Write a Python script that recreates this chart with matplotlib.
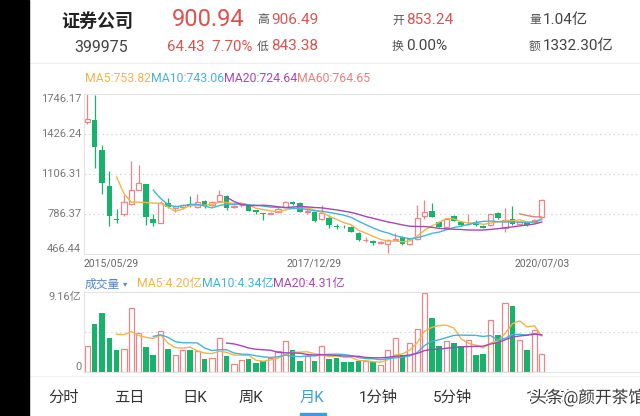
import matplotlib.pyplot as plt
import matplotlib.patheffects as pe
from matplotlib.patches import Rectangle
from matplotlib.lines import Line2D
import pandas as pd

plt.rcParams['font.family'] = ['Roboto', 'Noto Sans CJK SC', 'DejaVu Sans']
NARROW = ['Liberation Sans Narrow', 'Roboto', 'Noto Sans CJK SC']

# monthly candles, 2015/05 .. 2020/07
opens = [1520, 1541, 1301, 1013, 745, 786, 866, 981, 1026, 749,
         714, 872, 838, 845, 868, 845, 888, 855, 888, 928,
         845, 855, 850, 815, 792, 790, 802, 845, 880, 877,
         800, 800, 744, 752, 690, 685, 680, 632, 575, 573,
         555, 548, 580, 605, 546, 584, 773, 813, 720, 685,
         770, 725, 705, 725, 690, 698, 797, 672, 746, 706,
         717, 720, 764]
highs = [1746, 1735, 1336, 1128, 826, 941, 1208, 1176, 1030, 786,
         888, 914, 860, 870, 928, 946, 895, 888, 980, 935,
         862, 870, 858, 820, 795, 800, 840, 890, 890, 885,
         830, 805, 858, 780, 710, 695, 690, 640, 600, 575,
         570, 585, 632, 612, 590, 858, 898, 877, 730, 752,
         775, 730, 786, 735, 700, 790, 800, 834, 850, 730,
         720, 745, 905]
lows = [1510, 1154, 946, 688, 714, 773, 861, 978, 701, 688,
        714, 834, 805, 830, 845, 838, 838, 850, 885, 820,
        835, 845, 808, 790, 738, 785, 800, 843, 855, 800,
        785, 725, 740, 672, 665, 675, 640, 570, 565, 540,
        548, 472, 575, 540, 542, 580, 744, 760, 680, 680,
        728, 690, 700, 692, 672, 690, 745, 645, 700, 698,
        690, 715, 760]
closes = [1545, 1320, 1034, 773, 738, 880, 981, 1032, 760, 714,
          874, 840, 848, 855, 848, 882, 848, 882, 940, 834,
          852, 860, 813, 800, 787, 797, 824, 880, 864, 805,
          810, 733, 792, 698, 685, 680, 645, 578, 580, 552,
          562, 576, 585, 546, 584, 757, 805, 765, 685, 744,
          733, 698, 710, 698, 677, 786, 752, 738, 706, 720,
          698, 738, 899]
# volume, 亿
volumes = [2.93, 5.50, 6.76, 3.89, 2.52, 2.67, 7.33, 4.47, 2.86, 1.90,
           4.65, 2.67, 1.90, 2.52, 2.52, 2.45, 1.49, 1.55, 3.89, 1.87,
           0.92, 1.41, 1.49, 1.03, 1.30, 1.64, 2.40, 3.50, 2.52, 1.30,
           1.87, 1.30, 2.93, 1.49, 1.60, 1.15, 1.15, 1.22, 1.30, 1.10,
           0.84, 2.55, 3.90, 1.98, 3.30, 4.98, 9.10, 6.22, 2.97, 3.60,
           3.30, 2.93, 3.63, 1.90, 2.05, 6.00, 4.20, 7.90, 7.53, 3.63,
           2.55, 4.85, 2.05]

price_ticks = [466.44, 786.37, 1106.31, 1426.24, 1746.17]
vol_max = 9.16
date_labels = ['2015/05/29', '2017/12/29', '2020/07/03']
date_pos = [0, 31, 62]

ma_windows = [5, 10, 20, 60]
ma_colors = ['#f0b54a', '#45b3dc', '#a946b4', '#e5807c']
ma_labels = ['MA5:753.82', 'MA10:743.06', 'MA20:724.64', 'MA60:764.65']
vol_ma_labels = ['MA5:4.20亿', 'MA10:4.34亿', 'MA20:4.31亿']

tabs = ['分时', '五日', '日K', '周K', '月K', '1分钟', '5分钟', '15分钟']
tab_x = [48, 114, 182, 239, 300, 359, 433, 526]

UP = '#e8868a'
DOWN = '#17b26b'
RED = '#d9534f'
GRID = '#e4e4e4'

W, H = 640, 416
fig = plt.figure(figsize=(6.4, 4.16), dpi=100)
fig.patch.set_facecolor('white')


def fx(px):
    return px / W


def fy(py):
    return 1 - py / H


step = 7.33
x0 = 87.3
left_px = 84
xmin = (left_px - x0) / step
xmax = (W - x0) / step

ax_p = fig.add_axes([fx(left_px), fy(254), fx(W - left_px), 160 / H])
ax_v = fig.add_axes([fx(left_px), fy(372), fx(W - left_px), 80 / H])

df = pd.DataFrame({'open': opens, 'high': highs, 'low': lows,
                   'close': closes, 'vol': volumes})
df['up'] = df['close'] >= df['open']
idx = list(range(len(df)))

# candles
for i, r in df.iterrows():
    col = UP if r['up'] else DOWN
    lo_b = min(r['open'], r['close'])
    hi_b = max(r['open'], r['close'])
    ax_p.vlines(i, r['low'], r['high'], color=col, lw=0.9, zorder=2)
    body = max(hi_b - lo_b, 4)
    if r['up']:
        ax_p.bar(i, body, bottom=lo_b, width=0.72, facecolor='white',
                 edgecolor=col, lw=0.9, zorder=3)
    else:
        ax_p.bar(i, body, bottom=lo_b, width=0.76, color=col, lw=0, zorder=3)

for w, c in zip(ma_windows, ma_colors):
    ma = df['close'].rolling(w).mean()
    ax_p.plot(idx, ma, color=c, lw=1.0, zorder=4)

ax_p.set_xlim(xmin, xmax)
ax_p.set_ylim(price_ticks[0], price_ticks[-1])
for v in price_ticks[1:-1]:
    ax_p.axhline(v, color='#d6d6d6', lw=0.8, ls=(0, (1.5, 2.5)), zorder=1)

# volume bars
for i, r in df.iterrows():
    if r['up']:
        ax_v.bar(i, r['vol'], width=0.72, facecolor='white', edgecolor=UP,
                 lw=0.9, zorder=2)
    else:
        ax_v.bar(i, r['vol'], width=0.76, color=DOWN, lw=0, zorder=2)
for w, c in zip(ma_windows[:3], ma_colors[:3]):
    ax_v.plot(idx, df['vol'].rolling(w).mean(), color=c, lw=1.0, zorder=3)
ax_v.set_xlim(xmin, xmax)
ax_v.set_ylim(0, vol_max)
ax_v.axhline(vol_max / 2, color='#d6d6d6', lw=0.8, ls=(0, (1.5, 2.5)), zorder=1)

for ax in (ax_p, ax_v):
    ax.set_xticks([])
    ax.set_yticks([])
    ax.spines['right'].set_visible(False)
    for s in ('left', 'top', 'bottom'):
        ax.spines[s].set_color(GRID)
        ax.spines[s].set_linewidth(0.8)
    ax.patch.set_alpha(0)

# price axis labels
ytr = ax_p.get_yaxis_transform()
for k, v in enumerate(price_ticks):
    va = 'bottom' if k == 0 else ('top' if k == len(price_ticks) - 1 else 'center')
    ax_p.text(-0.005, v, f'{v:.2f}', transform=ytr, ha='right', va=va,
              fontsize=8, color='#777777')
ax_v.text(-0.005, vol_max, f'{vol_max:.2f}亿', transform=ax_v.get_yaxis_transform(),
          ha='right', va='top', fontsize=8, color='#777777')
ax_v.text(-0.005, 0, '0', transform=ax_v.get_yaxis_transform(),
          ha='right', va='bottom', fontsize=8, color='#777777')

xtr = ax_p.get_xaxis_transform()
for lab, p in zip(date_labels, date_pos):
    ha = 'left' if p == 0 else 'center'
    xx = xmin if p == 0 else p
    ax_p.text(xx, -0.058, lab, transform=xtr, ha=ha, va='center',
              fontsize=7.5, color='#666666')

renderer = fig.canvas.get_renderer()


def chain(x, y, parts, size, family=None):
    for s, c in parts:
        kw = {} if family is None else {'family': family}
        t = fig.text(fx(x), fy(y), s, color=c, ha='left', va='center',
                     fontsize=size, **kw)
        x += t.get_window_extent(renderer).width
    return x


chain(85, 79, list(zip(ma_labels, ma_colors)), 8.8)
xv = chain(85, 284, [('成交量', '#4f86c6')], 8.5)
chain(xv + 3, 284, [('▾', '#4f86c6')], 6)
chain(137, 284, list(zip(vol_ma_labels, ma_colors[:3])), 8.8)

# header
fig.text(fx(61), fy(22), '证券公司', fontsize=13, fontweight='bold',
         color='#222222', ha='left', va='center')
fig.text(fx(74), fy(47), '399975', fontsize=11.5, family=NARROW,
         color='#444444', ha='left', va='center')
fig.text(fx(172), fy(20), '900.94', fontsize=17, family=NARROW,
         color=RED, ha='left', va='center')
fig.text(fx(167), fy(47), '64.43  7.70%', fontsize=10.8, family=NARROW,
         color=RED, ha='left', va='center')

head = [(257, 20, '高', '906.49', RED), (257, 46, '低', '843.38', RED),
        (392, 20, '开', '853.24', RED), (392, 46, '换', '0.00%', '#444444'),
        (529, 20, '量', '1.04亿', '#444444'), (529, 46, '额', '1332.30亿', '#444444')]
for hx, hy, k, v, c in head:
    fig.text(fx(hx), fy(hy), k, fontsize=8.5, color='#555555',
             ha='left', va='center', family=['Noto Sans CJK SC'])
    fig.text(fx(hx + 14), fy(hy), v, fontsize=11, color=c, ha='left',
             va='center', family=NARROW)

fig.add_artist(Line2D([fx(29), 1], [fy(63), fy(63)], color='#eeeeee', lw=0.8))
fig.add_artist(Line2D([fx(29), 1], [fy(376), fy(376)], color='#f0f0f0', lw=0.8))

# tabs
for t, tx in zip(tabs, tab_x):
    c = '#3a9fd8' if t == '月K' else '#333333'
    fig.text(fx(tx), fy(398), t, fontsize=11, color=c, ha='left', va='center')
fig.add_artist(Rectangle((fx(300), fy(416)), fx(26), 3 / H, color='#3a9fd8',
                         transform=fig.transFigure))
fig.text(fx(530), fy(397), '头条@颜开茶馆', fontsize=12, color='#3a3a3a',
         ha='left', va='center',
         path_effects=[pe.withStroke(linewidth=2.5, foreground='white')])

# left black strip of the screenshot
fig.add_artist(Rectangle((0, 0), fx(29), 1, color='black',
                         transform=fig.transFigure, zorder=10))

fig.savefig('out.png', dpi=100)
